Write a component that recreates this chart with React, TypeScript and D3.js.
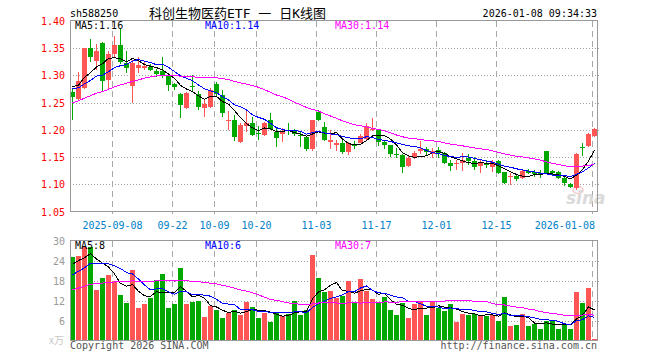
import React from "react";
import * as d3 from "d3";

// ---------- data ----------
const opens = [1.270,1.257,1.277,1.350,1.327,1.360,1.291,1.340,1.355,1.322,
  1.280,1.314,1.313,1.316,1.309,1.308,1.301,1.284,1.266,1.241,
  1.280,1.266,1.241,1.242,1.285,1.264,1.217,1.218,1.178,1.2075,
  1.213,1.194,1.190,1.219,1.196,1.1915,1.200,1.1995,1.190,1.186,
  1.164,1.233,1.206,1.177,1.173,1.176,1.159,1.173,1.176,1.184,
  1.200,1.199,1.177,1.172,1.156,1.1535,1.133,1.150,1.161,1.165,
  1.156,1.163,1.157,1.139,1.138,1.140,1.149,1.142,1.133,1.139,
  1.131,1.142,1.122,1.114,1.115,1.111,1.124,1.123,1.121,1.161,
  1.124,1.122,1.112,1.101,1.093,1.169,1.170,1.188];
const highs = [1.277,1.307,1.351,1.367,1.357,1.362,1.345,1.372,1.385,1.345,
  1.328,1.333,1.324,1.321,1.312,1.333,1.304,1.287,1.268,1.270,
  1.301,1.272,1.256,1.276,1.288,1.273,1.234,1.227,1.212,1.236,
  1.223,1.207,1.215,1.231,1.206,1.2026,1.212,1.201,1.196,1.188,
  1.219,1.236,1.215,1.199,1.181,1.181,1.178,1.179,1.193,1.213,
  1.222,1.202,1.182,1.173,1.167,1.155,1.152,1.161,1.179,1.168,
  1.167,1.168,1.159,1.145,1.145,1.158,1.155,1.151,1.145,1.145,
  1.145,1.144,1.123,1.120,1.118,1.127,1.128,1.126,1.126,1.161,
  1.127,1.124,1.114,1.103,1.157,1.175,1.195,1.203];
const lows = [1.219,1.255,1.275,1.325,1.310,1.270,1.273,1.333,1.321,1.305,
  1.250,1.305,1.310,1.308,1.298,1.296,1.272,1.273,1.222,1.238,
  1.272,1.237,1.223,1.241,1.263,1.224,1.1995,1.180,1.176,1.196,
  1.188,1.181,1.188,1.199,1.168,1.178,1.190,1.188,1.169,1.161,
  1.162,1.216,1.180,1.165,1.162,1.156,1.153,1.165,1.175,1.182,
  1.198,1.170,1.164,1.150,1.149,1.121,1.131,1.147,1.155,1.152,
  1.149,1.149,1.138,1.125,1.127,1.124,1.136,1.127,1.120,1.130,
  1.123,1.119,1.101,1.098,1.106,1.109,1.118,1.113,1.112,1.118,
  1.117,1.110,1.097,1.093,1.090,1.152,1.168,1.186];
const closes = [1.261,1.290,1.350,1.333,1.344,1.290,1.340,1.355,1.325,1.314,
  1.322,1.320,1.318,1.310,1.302,1.301,1.282,1.278,1.246,1.268,
  1.278,1.242,1.247,1.274,1.266,1.231,1.219,1.187,1.209,1.213,
  1.190,1.193,1.212,1.201,1.185,1.1964,1.199,1.192,1.189,1.164,
  1.218,1.218,1.182,1.181,1.176,1.159,1.176,1.170,1.188,1.208,
  1.202,1.178,1.172,1.155,1.154,1.131,1.1485,1.158,1.164,1.160,
  1.162,1.158,1.140,1.133,1.140,1.144,1.142,1.132,1.140,1.136,
  1.141,1.121,1.103,1.115,1.110,1.125,1.120,1.118,1.117,1.120,
  1.120,1.112,1.102,1.095,1.156,1.168,1.193,1.201];
const volumes = [25.2,25.5,28.2,28.2,15.2,18.9,19.7,18.0,13.7,11.2,
  21.2,9.8,11.0,12.9,18.2,20.0,9.8,11.0,21.9,11.0,
  11.7,11.9,7.1,10.5,9.1,6.8,8.3,9.1,7.6,11.7,
  10.2,6.8,8.3,5.6,8.4,7.3,8.1,12.0,7.6,9.1,
  25.7,18.7,14.7,14.9,12.9,13.4,18.0,11.7,18.5,14.9,
  12.5,11.7,13.2,9.1,7.6,11.4,6.8,11.0,11.9,7.6,
  11.7,9.9,8.9,11.0,5.6,7.9,7.6,8.1,7.6,7.4,
  7.6,5.9,13.2,4.4,4.6,7.9,4.4,4.9,3.4,5.9,
  5.9,3.4,4.9,3.4,14.7,11.4,15.9,0.4];
// sessions before the visible window (needed for the moving averages)
const preCloses = [1.19,1.195,1.20,1.205,1.21,1.21,1.215,1.22,1.22,1.225,
  1.23,1.23,1.235,1.25,1.27,1.28,1.29,1.285,1.29,1.285,
  1.28,1.275,1.27,1.265,1.274,1.275,1.28,1.29,1.291];
const preVolumes = [10,12,9,14,11,13,15,12,10,14,
  13,16,12,11,15,14,13,17,15,14,
  15,18,14,17,18.5,20,24,22,23.3];

const dateLabels = ["2025-09-08","09-22","10-09","10-20","11-03","11-17","12-01","12-15","2026-01-08"];
const dateIndex = [7,17,24,31,41,51,61,71,87];
const priceTicks = [1.40,1.35,1.30,1.25,1.20,1.15,1.10,1.05];
const volTicks = [30,24,18,12,6];
const maPeriods = [5,10,30];
const maColors = ["#000000","#0000ff","#ff00ff"];
const priceMaLabels = ["MA5:1.16","MA10:1.14","MA30:1.14"];
const volMaLabels = ["MA5:8","MA10:6","MA30:7"];

const UP = "#ff5555";
const DOWN = "#00a800";
const MONO = "'DejaVu Sans Mono', 'Liberation Mono', monospace";

function movingAvg(pre: number[], vals: number[], n: number): number[] {
  const all = pre.concat(vals);
  const off = pre.length;
  return vals.map((_, i) => d3.mean(all.slice(off + i - n + 1, off + i + 1)) as number);
}

export default function App() {
  const n = closes.length;
  const left = 70, right = 597;
  const x = d3.scaleLinear().domain([0, n]).range([left, left + n * 6]);
  const y = d3.scaleLinear().domain([1.05, 1.40]).range([211.5, 21]);
  const yv = d3.scaleLinear().domain([0, 30]).range([340.5, 240.5]);
  const cx = (i: number) => x(i) + 2.5;

  const priceLine = d3.line<number>().x((_, i) => cx(i)).y((v) => y(v));
  const volLine = d3.line<number>().x((_, i) => cx(i)).y((v) => yv(v));

  const priceMA = maPeriods.map((p) => movingAvg(preCloses, closes, p));
  const volMA = maPeriods.map((p) => movingAvg(preVolumes, volumes, p));
  const maLabelX = [75, 205, 335];

  return (
    <svg width={660} height={360} style={{ display: "block", position: "absolute", left: 0, top: 0, background: "#fff" }}>
      <rect x={0} y={0} width={660} height={360} fill="#fff" />
      {/* header */}
      <text x={70} y={16.5} fontFamily={MONO} fontSize={10} fill="#000">sh588250</text>
      <text x={237.5} y={18} textAnchor="middle" fontFamily={"'DejaVu Sans Mono', 'Noto Sans CJK SC', monospace"} fontSize={13} fill="#000">科创生物医药ETF 一 日K线图</text>
      <text x={597} y={16.5} textAnchor="end" fontFamily={MONO} fontSize={10} fill="#000">2026-01-08 09:34:33</text>

      {/* price grid */}
      {priceTicks.slice(1, -1).map((t) => (
        <line key={"pg" + t} x1={left} x2={600} y1={Math.round(y(t)) + 0.5} y2={Math.round(y(t)) + 0.5} stroke="#a0a0a0" strokeDasharray="1,2" />
      ))}
      {dateIndex.map((di) => (
        <line key={"pv" + di} x1={x(di) + 0.5} x2={x(di) + 0.5} y1={21} y2={214} stroke="#a8a8a8" strokeDasharray="6,4" />
      ))}
      {priceTicks.map((t) => (
        <text key={"pl" + t} x={65} y={y(t) + 4} textAnchor="end" fontFamily={MONO} fontSize={10} fill="#ff0000">{t.toFixed(2)}</text>
      ))}
      {dateLabels.map((lab, k) => {
        const last = k === dateLabels.length - 1;
        return (
          <text key={"dl" + k} x={last ? 595 : x(dateIndex[k]) + 0.5} y={228.5} textAnchor={last ? "end" : "middle"} fontFamily={MONO} fontSize={10} fill="#0080c8">{lab}</text>
        );
      })}

      {/* sina watermark */}
      <g opacity={0.9}>
        <ellipse cx={578} cy={190} rx={5} ry={3.5} fill="none" stroke="#f2c4c4" strokeWidth={1.5} />
        <text x={566} y={204} fontFamily="'DejaVu Sans', sans-serif" fontStyle="italic" fontWeight="bold" fontSize={17} fill="#d6d6d6">sina</text>
      </g>

      {/* candles */}
      {closes.map((c, i) => {
        const o = opens[i];
        const up = c >= o;
        const col = up ? UP : DOWN;
        const top = y(Math.max(o, c));
        const bot = y(Math.min(o, c));
        return (
          <g key={"c" + i} shapeRendering="crispEdges">
            <line x1={cx(i)} x2={cx(i)} y1={y(highs[i])} y2={y(lows[i])} stroke={col} />
            <rect x={x(i)} y={top} width={5} height={Math.max(1, bot - top)} fill={col} />
          </g>
        );
      })}
      {priceMA.map((m, k) => (
        <path key={"pm" + k} d={priceLine(m) || ""} fill="none" stroke={maColors[k]} strokeWidth={1} shapeRendering="crispEdges" />
      ))}
      {priceMaLabels.map((lab, k) => (
        <text key={"pml" + k} x={maLabelX[k]} y={29} fontFamily={MONO} fontSize={10} fill={maColors[k]}>{lab}</text>
      ))}
      <rect x={left + 0.5} y={20.5} width={right - left} height={191} fill="none" stroke="#999" />

      {/* volume panel */}
      {volTicks.slice(1).map((t) => (
        <line key={"vg" + t} x1={left} x2={600} y1={Math.round(yv(t)) + 0.5} y2={Math.round(yv(t)) + 0.5} stroke="#a0a0a0" strokeDasharray="1,2" />
      ))}
      {dateIndex.map((di) => (
        <line key={"vv" + di} x1={x(di) + 0.5} x2={x(di) + 0.5} y1={241} y2={340} stroke="#a8a8a8" strokeDasharray="6,4" />
      ))}
      {volTicks.map((t) => (
        <text key={"vl" + t} x={65} y={yv(t) + 4} textAnchor="end" fontFamily={MONO} fontSize={10} fill="#999">{t}</text>
      ))}
      <text x={64} y={344} textAnchor="end" fontFamily={"'Noto Sans CJK SC', sans-serif"} fontSize={10} fill="#c8c8c8">x万</text>
      {volumes.map((v, i) => {
        const up = closes[i] >= opens[i];
        return (
          <rect key={"v" + i} x={x(i)} y={yv(v)} width={5} height={yv(0) - yv(v)} fill={up ? UP : DOWN} shapeRendering="crispEdges" />
        );
      })}
      {volMA.map((m, k) => (
        <path key={"vm" + k} d={volLine(m) || ""} fill="none" stroke={maColors[k]} strokeWidth={1} shapeRendering="crispEdges" />
      ))}
      {volMaLabels.map((lab, k) => (
        <text key={"vml" + k} x={maLabelX[k]} y={249} fontFamily={MONO} fontSize={10} fill={maColors[k]}>{lab}</text>
      ))}
      <rect x={left + 0.5} y={240.5} width={right - left} height={100} fill="none" stroke="#999" />

      {/* footer */}
      <text x={70} y={348.5} fontFamily={MONO} fontSize={10} fill="#555">Copyright 2026 SINA.COM</text>
      <text x={597} y={348.5} textAnchor="end" fontFamily={MONO} fontSize={10} fill="#555">http://finance.sina.com.cn</text>
    </svg>
  );
}
